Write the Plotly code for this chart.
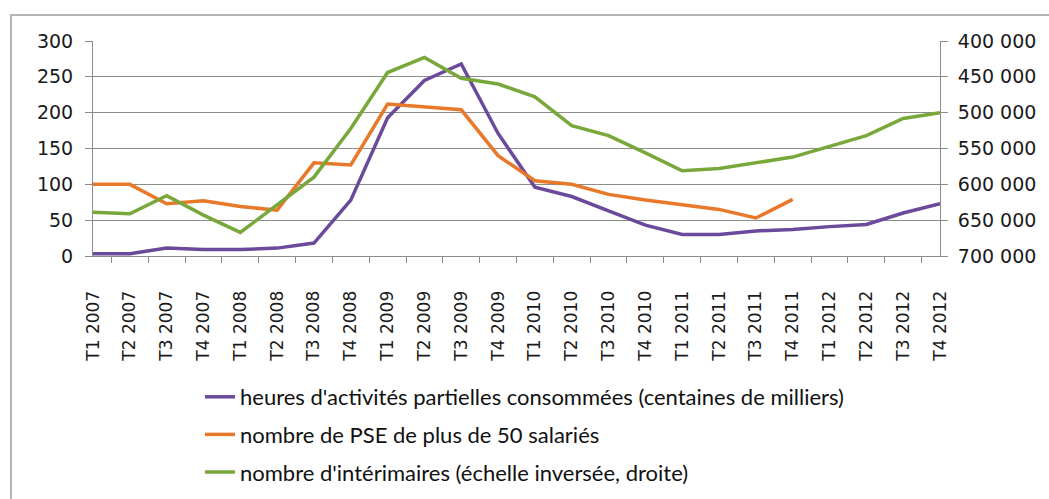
import plotly.graph_objects as go

# Quarters on the x axis
quarters = [f"T{q} {y}" for y in range(2007, 2013) for q in range(1, 5)]

# Left axis: partial-activity hours (hundreds of thousands) and PSE counts
heures_partielles = [3, 3, 11, 9, 9, 11, 18, 78, 193, 245, 268, 171,
                     96, 83, 63, 43, 30, 30, 35, 37, 41, 44, 60, 73]
nombre_pse = [100, 100, 73, 77, 69, 64, 130, 127, 212, 208, 204, 140,
              105, 100, 86, 78, 72, 65, 53, 79, None, None, None, None]

# Right axis (reversed): number of temp workers
interimaires = [639000, 641000, 616000, 643000, 667000, 628000, 590000, 522000,
                444000, 423000, 452000, 460000, 478000, 518000, 532000, 556000,
                581000, 578000, 570000, 562000, 547000, 532000, 508000, 500000]

names = [
    "heures d'activités partielles consommées (centaines de milliers)",
    "nombre de PSE de plus de 50 salariés",
    "nombre d'intérimaires (échelle inversée, droite)",
]
colors = ["#6b4a9c", "#e8782a", "#78a83a"]

W, H = 1049, 499
L, R, T = 93, 109, 41
PLOT_BOTTOM = 256  # pixel row of the x axis
GRID = "#8c8c8c"
INK = "#1a1a1a"


def px_x(px):
    return (px - L) / (W - L - R)


def px_y(py):
    # paper spans the whole height below the top margin (b margin = 0)
    return (H - py) / (H - T)


fig = go.Figure()
fig.add_trace(go.Scatter(x=quarters, y=heures_partielles, name=names[0], mode="lines",
                         legendgroup="a", line=dict(color=colors[0], width=3.5)))
fig.add_trace(go.Scatter(x=quarters, y=nombre_pse, name=names[1], mode="lines",
                         legendgroup="b", line=dict(color=colors[1], width=3.5)))
fig.add_trace(go.Scatter(x=quarters, y=interimaires, name=names[2], mode="lines", yaxis="y2",
                         legendgroup="c", line=dict(color=colors[2], width=3.5)))

# outer chart frame (runs off the right and bottom edges)
fig.add_shape(type="rect", xref="paper", yref="paper",
              x0=px_x(11), x1=1.4, y0=-1.0, y1=px_y(15),
              line=dict(color="#b4b4b4", width=2), layer="below")

fig.update_layout(
    width=W, height=H,
    margin=dict(l=L, r=R, t=T, b=0),
    paper_bgcolor="white", plot_bgcolor="white",
    separators=", ",
    showlegend=True,
    # legend sits inside the paper area (below the axis domain) so it never pushes margins
    legend=dict(x=px_x(200), y=px_y(493), xanchor="left", yanchor="bottom",
                font=dict(family="Lato", size=22, color="#111"),
                tracegroupgap=6, bgcolor="rgba(0,0,0,0)"),
    xaxis=dict(type="category", tickangle=-90, tickfont=dict(family="DejaVu Sans", size=17, color=INK),
               showline=True, linecolor=GRID, linewidth=1, ticks="outside", ticklen=6,
               tickcolor=GRID, tickson="boundaries", showgrid=False, ticklabelstandoff=27,
               automargin=False),
    yaxis=dict(domain=[px_y(PLOT_BOTTOM), 1], range=[0, 300], dtick=50,
               tickfont=dict(family="DejaVu Sans", size=19, color=INK),
               showline=True, linecolor=GRID, ticks="outside", ticklen=7, tickcolor=GRID,
               gridcolor=GRID, gridwidth=1, zeroline=False, ticklabelstandoff=8, automargin=False),
    yaxis2=dict(range=[700000, 400000], dtick=50000, tickformat=",d", overlaying="y", side="right",
                tickfont=dict(family="DejaVu Sans", size=19, color=INK), showline=True,
                linecolor=GRID, ticks="outside", ticklen=7, tickcolor=GRID, showgrid=False,
                zeroline=False, ticklabelstandoff=6, automargin=False),
)

# page body margin would push the 1049x499 figure off the window
fig.write_html("out.html", config={"displayModeBar": False},
               post_script="document.body.style.margin = '0';")
